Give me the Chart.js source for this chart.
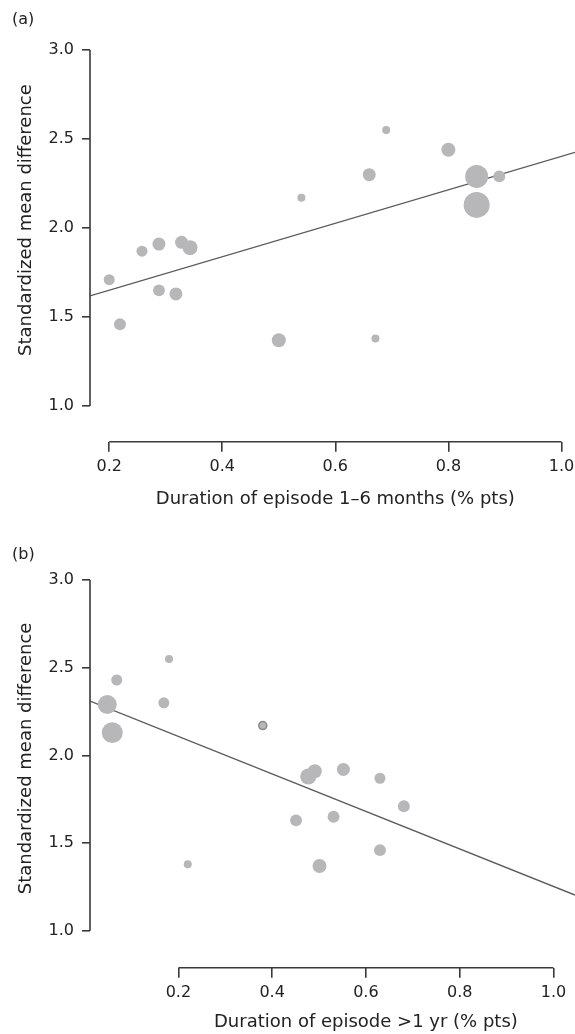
<!DOCTYPE html>
<html>
  <head>
    <title>Standardized mean difference vs duration of episode</title>
    <style>
      body { margin: 0; background: #fff; }
      canvas { display: block; }
    </style>
  </head>
  <script src="https://cdn.jsdelivr.net/npm/chart.js@4.4.1/dist/chart.umd.min.js"></script>
  <body>
    <canvas id="chartA" width="575" height="517"></canvas>
    <canvas id="chartB" width="575" height="517"></canvas>

    <script>
      // tick labels (shared)
      const xTicks = [0.2, 0.4, 0.6, 0.8, 1.0]
      const yTicks = [1.0, 1.5, 2.0, 2.5, 3.0]

      // panel (a): duration of episode 1-6 months
      const xA = [0.20, 0.219, 0.288, 0.318, 0.500, 0.671, 0.258, 0.288, 0.328, 0.343, 0.540, 0.690, 0.800, 0.660, 0.850, 0.890, 0.850]
      const yA = [1.71, 1.46, 1.65, 1.63, 1.37, 1.38, 1.87, 1.91, 1.92, 1.89, 2.17, 2.55, 2.44, 2.30, 2.29, 2.29, 2.13]
      const weightA = [18, 21, 21, 25, 29, 9.5, 18, 25, 25, 33, 9.5, 9.5, 29, 25, 78, 21, 100]
      const fitA = [[0.166, 1.619], [1.024, 2.425]]

      // panel (b): duration of episode >1 yr
      const xB = [0.220, 0.451, 0.531, 0.501, 0.477, 0.491, 0.552, 0.630, 0.681, 0.630, 0.0685, 0.180, 0.0484, 0.059, 0.169, 0.380]
      const yB = [1.38, 1.63, 1.65, 1.37, 1.88, 1.91, 1.92, 1.87, 1.71, 1.46, 2.43, 2.55, 2.29, 2.13, 2.30, 2.17]
      const weightB = [9.5, 21, 21, 29, 38, 29, 25, 18, 21, 21, 18, 9.5, 53, 65, 18, 9.5]
      const fitB = [[0.0115, 2.31], [1.046, 1.204]]

      const font = "'DejaVu Sans', sans-serif"
      const axisColor = '#3a3a3a'
      const dotColor = '#b7b7b9'

      // R-style detached axes + titles
      const axisPlugin = {
        id: 'axisPlugin',
        afterDraw(chart, args, opts) {
          const {ctx, chartArea, scales: {x, y}} = chart
          const x0 = x.getPixelForValue(xTicks[0])
          const x1 = x.getPixelForValue(xTicks[xTicks.length - 1])
          const y0 = y.getPixelForValue(yTicks[0])
          const y1 = y.getPixelForValue(yTicks[yTicks.length - 1])
          ctx.save()
          ctx.strokeStyle = axisColor
          ctx.lineWidth = 1.6
          ctx.beginPath()
          ctx.moveTo(chartArea.left, y0)
          ctx.lineTo(chartArea.left, y1)
          ctx.moveTo(x0, chartArea.bottom)
          ctx.lineTo(x1, chartArea.bottom)
          ctx.stroke()

          ctx.fillStyle = '#222'
          ctx.font = '18px ' + font
          ctx.textAlign = 'center'
          ctx.textBaseline = 'middle'
          ctx.fillText(opts.xTitle, (x0 + x1) / 2, chartArea.bottom + opts.xTitleGap)

          ctx.translate(opts.yTitleX, (y0 + y1) / 2 + opts.yTitleShift)
          ctx.rotate(-Math.PI / 2)
          ctx.fillText(opts.yTitle, 0, 0)
          ctx.restore()

          ctx.save()
          ctx.fillStyle = '#222'
          ctx.font = '16px ' + font
          ctx.textBaseline = 'middle'
          ctx.fillText(opts.label, 12, opts.labelY)
          ctx.restore()
        }
      }

      function makeChart(id, xs, ys, ws, fit, xMin, xMax, yMin, topPad, xHeight, opts) {
        const points = xs.map((v, i) => ({x: v, y: ys[i], r: 1.3 * Math.sqrt(ws[i])}))
        return new Chart(id, {
          type: 'bubble',
          data: {
            datasets: [{
              data: points,
              backgroundColor: dotColor,
              borderColor: points.map((p, i) => (opts.ringed === i ? '#8a8a8a' : dotColor)),
              borderWidth: points.map((p, i) => (opts.ringed === i ? 1.5 : 0))
            }, {
              type: 'line',
              data: fit.map(p => ({x: p[0], y: p[1]})),
              borderColor: '#5a5a5a',
              borderWidth: 1.4,
              pointRadius: 0,
              fill: false
            }]
          },
          options: {
            responsive: false,
            animation: false,
            layout: {autoPadding: false, padding: {top: topPad, left: 0, right: 0, bottom: 0}},
            plugins: {
              legend: {display: false},
              tooltip: {enabled: false},
              axisPlugin: opts
            },
            scales: {
              x: {
                type: 'linear',
                min: xMin,
                max: xMax,
                afterBuildTicks: s => { s.ticks = xTicks.map(v => ({value: v})) },
                afterFit: s => { s.height = xHeight; s.paddingLeft = 0; s.paddingRight = 0 },
                border: {display: false},
                grid: {drawOnChartArea: false, tickLength: 10, color: axisColor, lineWidth: 1.6},
                ticks: {autoSkip: false, maxRotation: 0, padding: 6, color: '#222',
                  font: {family: font, size: 16}, callback: v => v.toFixed(1)}
              },
              y: {
                type: 'linear',
                min: yMin,
                max: 3.0,
                afterBuildTicks: s => { s.ticks = yTicks.map(v => ({value: v})) },
                afterFit: s => { s.width = 90 },
                border: {display: false},
                grid: {drawOnChartArea: false, tickLength: 8, color: axisColor, lineWidth: 1.6},
                ticks: {autoSkip: false, padding: 8, color: '#222',
                  font: {family: font, size: 16}, callback: v => v.toFixed(1)}
              }
            }
          },
          plugins: [axisPlugin]
        })
      }

      makeChart('chartA', xA, yA, weightA, fitA, 0.166, 1.024, 0.8, 50, 75.3, {
        label: '(a)', labelY: 20,
        xTitle: 'Duration of episode 1\u20136 months (% pts)', xTitleGap: 58,
        yTitle: 'Standardized mean difference', yTitleX: 26, yTitleShift: -8
      })
      makeChart('chartB', xB, yB, weightB, fitB, 0.0115, 1.046, 0.79, 63, 66.3, {
        label: '(b)', labelY: 38,
        xTitle: 'Duration of episode >1 yr (% pts)', xTitleGap: 55,
        yTitle: 'Standardized mean difference', yTitleX: 26, yTitleShift: 3,
        ringed: 15
      })
    </script>
  </body>
</html>
